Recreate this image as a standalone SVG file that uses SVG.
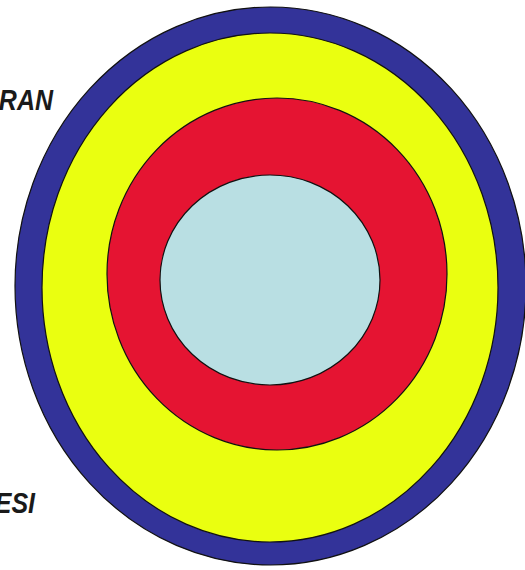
<svg xmlns="http://www.w3.org/2000/svg" width="525" height="570" viewBox="0 0 525 570">
<style>
.ring{stroke:#111;stroke-width:1.2}
.lbl{font-family:"Liberation Sans",Arial,sans-serif;font-weight:bold;font-style:italic;font-size:25px;fill:#1a1a1a}
</style>
<rect width="525" height="570" fill="#fff"/>
<g id="outer"><ellipse class="ring" cx="270.5" cy="286" rx="255.5" ry="279" fill="#333399"/></g>
<g id="yellow"><ellipse class="ring" cx="270" cy="287.5" rx="228" ry="254.5" fill="#eaff10"/></g>
<g id="red"><ellipse class="ring" cx="277" cy="274" rx="170" ry="176" fill="#e51432"/></g>
<g id="core"><ellipse class="ring" cx="270" cy="280" rx="110" ry="105" fill="#b9dfe3"/></g>
<g id="labels">
<text class="lbl" transform="scale(1,1.2)" x="53" y="91.7" text-anchor="end">RAN</text>
<text class="lbl" transform="scale(1,1.2)" x="35" y="427.5" text-anchor="end">ESI</text>
</g>
</svg>
